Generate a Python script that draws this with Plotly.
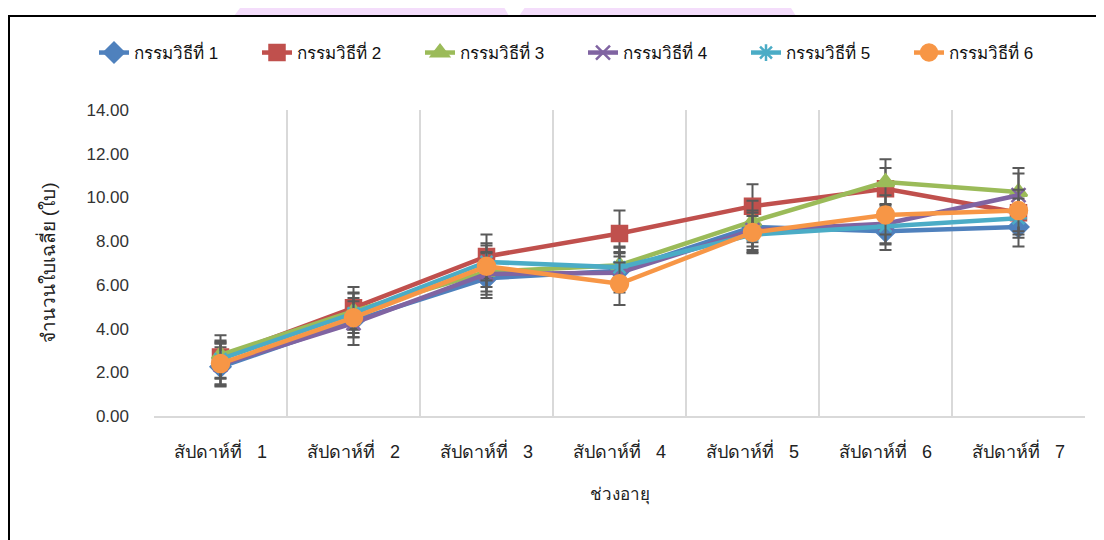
import plotly.graph_objects as go

weeks = ["สัปดาห์ที่ 1", "สัปดาห์ที่ 2", "สัปดาห์ที่ 3", "สัปดาห์ที่ 4",
         "สัปดาห์ที่ 5", "สัปดาห์ที่ 6", "สัปดาห์ที่ 7"]
week_ticks = [w.replace(" ", "\u00a0\u00a0\u00a0") for w in weeks]
series_names = ["กรรมวิธีที่ 1", "กรรมวิธีที่ 2", "กรรมวิธีที่ 3",
                "กรรมวิธีที่ 4", "กรรมวิธีที่ 5", "กรรมวิธีที่ 6"]

t1 = [2.25, 4.35, 6.30, 6.65, 8.65, 8.45, 8.65]
t2 = [2.70, 4.95, 7.30, 8.35, 9.60, 10.40, 9.30]
t3 = [2.80, 4.80, 6.60, 6.90, 8.90, 10.70, 10.25]
t4 = [2.35, 4.25, 6.50, 6.55, 8.50, 8.80, 10.10]
t5 = [2.60, 4.70, 7.05, 6.80, 8.30, 8.70, 9.05]
t6 = [2.40, 4.50, 6.85, 6.05, 8.40, 9.20, 9.40]

e1 = [0.90, 0.75, 0.90, 0.85, 0.90, 0.85, 0.90]
e2 = [1.00, 0.95, 1.00, 1.05, 1.00, 0.95, 1.00]
e3 = [0.60, 0.85, 0.90, 0.85, 0.95, 1.05, 1.10]
e4 = [0.95, 1.00, 0.95, 0.90, 0.90, 0.90, 1.00]
e5 = [0.85, 0.90, 0.85, 0.90, 0.85, 0.85, 0.90]
e6 = [0.95, 0.90, 0.95, 0.97, 0.90, 0.90, 0.95]

values = [t1, t2, t3, t4, t5, t6]
errors = [e1, e2, e3, e4, e5, e6]
colors = ["#4F81BD", "#C0504D", "#9BBB59", "#8064A2", "#4BACC6", "#F79646"]
symbols = ["diamond", "square", "triangle-up", "x-thin-open", "asterisk-open", "circle"]
sizes = [15, 15, 15, 14, 14, 17]

FONT = "Liberation Sans, Arial, sans-serif"

fig = go.Figure()
for name, v, e, c, s, sz in zip(series_names, values, errors, colors, symbols, sizes):
    fig.add_trace(go.Scatter(
        x=weeks, y=v, name=name, mode="lines+markers",
        line=dict(color=c, width=4.5),
        marker=dict(symbol=s, size=sz, color=c, line=dict(color=c, width=2.5)),
        error_y=dict(type="data", array=e, visible=True, color="#595959",
                     thickness=2, width=6),
    ))

# figure pixel geometry (page is offset by the 8px body margin)
L, R, T, B = 146, 27, 102, 132
W, H = 1104, 540
pw, ph = W - L - R, H - T - B

def px(x):
    return (x - L) / pw

def py(y):
    return (H - B - y) / ph

shapes = []
blob_fill = "#F4DDFB"
shapes.append(dict(type="path", xref="paper", yref="paper", layer="below",
                   path=f"M {px(226)},{py(8)} L {px(238)},{py(-8)} L {px(492)},{py(-8)} "
                        f"L {px(501)},{py(8)} Z",
                   fillcolor=blob_fill, line=dict(width=0)))
shapes.append(dict(type="path", xref="paper", yref="paper", layer="below",
                   path=f"M {px(511)},{py(8)} L {px(522)},{py(-8)} L {px(778)},{py(-8)} "
                        f"L {px(788)},{py(8)} Z",
                   fillcolor=blob_fill, line=dict(width=0)))
shapes.append(dict(type="rect", xref="paper", yref="paper", layer="below",
                   x0=px(1), y0=py(560), x1=px(1120), y1=py(8),
                   fillcolor="white", line=dict(color="black", width=2)))

fig.update_layout(
    width=W, height=H,
    margin=dict(l=L, r=R, t=T, b=B),
    paper_bgcolor="white", plot_bgcolor="white",
    font=dict(family=FONT, size=15, color="#222222"),
    shapes=shapes,
    showlegend=True,
    legend=dict(orientation="h", x=px(86), xanchor="left", y=py(45), yanchor="middle",
                font=dict(size=17, color="#111111"),
                entrywidth=118, entrywidthmode="pixels",
                bgcolor="rgba(0,0,0,0)"),
    xaxis=dict(type="category", tickson="boundaries", showgrid=True,
               gridcolor="#D9D9D9", gridwidth=2, showline=True,
               linecolor="#D9D9D9", linewidth=2, ticks="",
               tickmode="array", tickvals=weeks, ticktext=week_ticks,
               ticklabelstandoff=18,
               tickfont=dict(size=18, color="#222222"),
               title=dict(text="ช่วงอายุ", standoff=28,
                          font=dict(size=17, color="#222222")),
               range=[-0.5, 6.5]),
    yaxis=dict(range=[0, 14], dtick=2, tickformat=".2f", showgrid=False,
               zeroline=False, showline=False, ticks="",
               ticklabelstandoff=24,
               tickfont=dict(size=17, color="#333333"),
               title=dict(text="จำนวนใบเฉลี่ย (ใบ)", standoff=25,
                          font=dict(size=19, color="#222222"))),
)

fig.write_html("out.html")
